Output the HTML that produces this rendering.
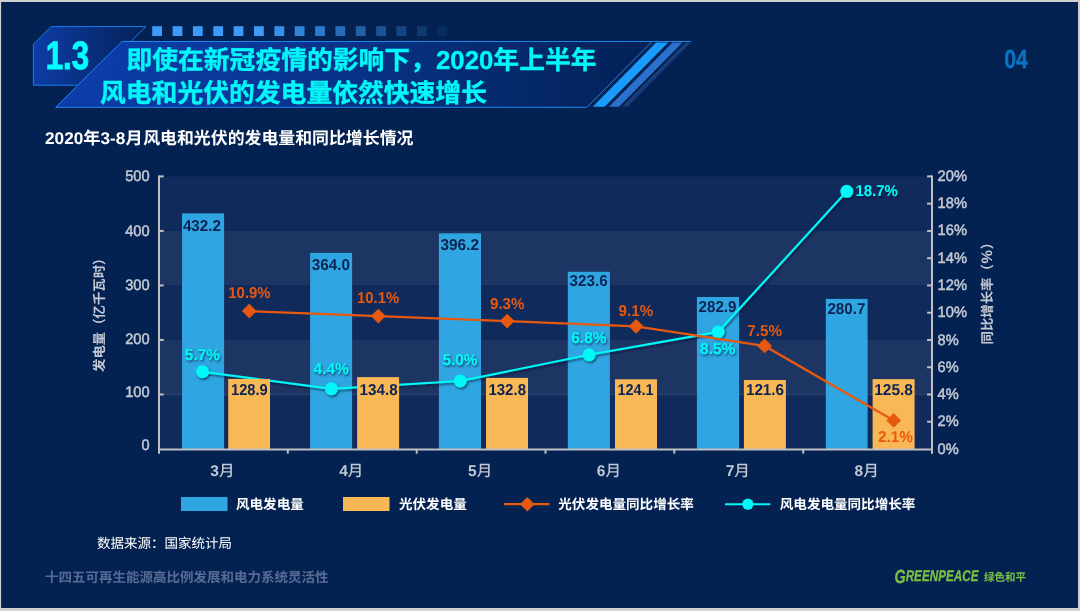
<!DOCTYPE html>
<html lang="zh-CN"><head><meta charset="utf-8"><title>1.3 风电和光伏的发电量</title>
<style>
html,body{margin:0;padding:0;background:#cfcfcf;}
body{width:1080px;height:611px;overflow:hidden;position:relative;}
svg{position:absolute;left:0;top:0;display:block;text-rendering:geometricPrecision;}
text{font-family:"Liberation Sans", "Noto Sans CJK SC", sans-serif;}
.din{font-family:"Liberation Sans", "Noto Sans CJK SC", sans-serif;font-weight:bold;}
.cjk{font-family:"Liberation Sans", "Noto Sans CJK SC", sans-serif;}
.dinm{font-family:"Liberation Sans", "Noto Sans CJK SC", sans-serif;font-weight:normal;}
</style></head><body>
<svg width="1080" height="611" viewBox="0 0 1080 611">
<defs>
<linearGradient id="gbox" x1="0" y1="0" x2="1" y2="0"><stop offset="0" stop-color="#0d3ca6"/><stop offset="0.75" stop-color="#06286a"/><stop offset="1" stop-color="#042058"/></linearGradient>
<linearGradient id="gban" x1="0" y1="0" x2="1" y2="0"><stop offset="0" stop-color="#0d3fb2"/><stop offset="0.3" stop-color="#0a399f"/><stop offset="0.6" stop-color="#073080"/><stop offset="0.85" stop-color="#042664"/><stop offset="1" stop-color="#032156"/></linearGradient>
<filter id="sh" x="-20%" y="-20%" width="140%" height="160%"><feDropShadow dx="1" dy="1.5" stdDeviation="1.2" flood-color="#000a30" flood-opacity="0.7"/></filter>
</defs>
<rect x="0" y="0" width="1080" height="611" fill="#d0d0d0"/>
<rect x="1.1" y="2" width="1076.9" height="606" fill="#032251"/>
<polygon points="51.1,26.6 145.8,26.6 87.2,85.2 33.4,85.2 33.4,44.3" fill="url(#gbox)" stroke="#1b7de6" stroke-width="1"/>
<rect x="152.2" y="26.2" width="9.8" height="9.8" fill="#3d9af8" opacity="1.00"/>
<rect x="172.6" y="26.2" width="9.8" height="9.8" fill="#3d9af8" opacity="1.00"/>
<rect x="192.9" y="26.2" width="9.8" height="9.8" fill="#3d9af8" opacity="1.00"/>
<rect x="213.3" y="26.2" width="9.8" height="9.8" fill="#3d9af8" opacity="1.00"/>
<rect x="233.6" y="26.2" width="9.8" height="9.8" fill="#3d9af8" opacity="1.00"/>
<rect x="254.0" y="26.2" width="9.8" height="9.8" fill="#3d9af8" opacity="1.00"/>
<rect x="274.4" y="26.2" width="9.8" height="9.8" fill="#3d9af8" opacity="0.92"/>
<rect x="294.7" y="26.2" width="9.8" height="9.8" fill="#3d9af8" opacity="0.82"/>
<rect x="315.1" y="26.2" width="9.8" height="9.8" fill="#3d9af8" opacity="0.72"/>
<rect x="335.4" y="26.2" width="9.8" height="9.8" fill="#3d9af8" opacity="0.62"/>
<rect x="355.8" y="26.2" width="9.8" height="9.8" fill="#3d9af8" opacity="0.52"/>
<rect x="376.2" y="26.2" width="9.8" height="9.8" fill="#3d9af8" opacity="0.42"/>
<rect x="396.5" y="26.2" width="9.8" height="9.8" fill="#3d9af8" opacity="0.30"/>
<rect x="416.9" y="26.2" width="9.8" height="9.8" fill="#3d9af8" opacity="0.20"/>
<rect x="437.2" y="26.2" width="9.8" height="9.8" fill="#3d9af8" opacity="0.10"/>
<polygon points="121.9,41.5 652,41.5 587,107.3 55.7,107.3" fill="url(#gban)" fill-opacity="0.93" stroke="#1c86ee" stroke-width="1"/>
<line x1="640" y1="41.5" x2="691" y2="41.5" stroke="#1c86ee" stroke-width="1"/>
<polygon points="656.2,42.5 668.2,42.5 604.7,106.8 592.7,106.8" fill="#1a9cff"/>
<polygon points="672.5,42.5 682.5,42.5 619,106.8 609,106.8" fill="#2b72cf"/>
<polygon points="685.5,42.5 690.8,42.5 627.3,106.8 622,106.8" fill="#173d7d"/>
<text class="din" x="45.7" y="69.0" font-size="39.6" fill="#00ffff" stroke="#00ffff" stroke-width="0.9" textLength="43.5" lengthAdjust="spacingAndGlyphs">1.3</text>
<text class="cjk" x="126.4" y="68.8" font-size="25.8" font-weight="bold" fill="#00f8f8" stroke="#00f8f8" stroke-width="0.35">即使在新冠疫情的影响下，2020年上半年</text>
<text class="cjk" x="100" y="101.8" font-size="25.8" font-weight="bold" fill="#00f8f8" stroke="#00f8f8" stroke-width="0.35">风电和光伏的发电量依然快速增长</text>
<text class="din" x="1004.3" y="68.1" font-size="26" fill="#0a72c1" stroke="#0a72c1" stroke-width="0.5" textLength="23.6" lengthAdjust="spacingAndGlyphs">04</text>
<text class="cjk" x="45" y="144.2" font-size="16.9" font-weight="bold" fill="#ffffff" textLength="97.6" lengthAdjust="spacingAndGlyphs">2020年3-8月</text>
<text class="cjk" x="143.2" y="144.2" font-size="16.9" font-weight="bold" fill="#ffffff">风电和光伏的发电量和同比增长情况</text>
<rect x="159.0" y="176.40" width="773.0" height="54.52" fill="#102a5b"/>
<rect x="159.0" y="230.92" width="773.0" height="54.52" fill="#1d3563"/>
<rect x="159.0" y="285.44" width="773.0" height="54.52" fill="#102a5b"/>
<rect x="159.0" y="339.96" width="773.0" height="54.52" fill="#1d3563"/>
<rect x="159.0" y="394.48" width="773.0" height="54.52" fill="#102a5b"/>
<line x1="159.0" y1="394.48" x2="932.0" y2="394.48" stroke="#ffffff" stroke-opacity="0.10" stroke-width="1.6"/>
<rect x="182.0" y="213.4" width="42.1" height="235.6" fill="#2fa6e1"/>
<rect x="310.1" y="252.9" width="42.0" height="196.1" fill="#2fa6e1"/>
<rect x="438.9" y="233.3" width="42.1" height="215.7" fill="#2fa6e1"/>
<rect x="567.8" y="271.8" width="42.1" height="177.2" fill="#2fa6e1"/>
<rect x="696.9" y="297.0" width="42.2" height="152.0" fill="#2fa6e1"/>
<rect x="825.8" y="298.9" width="41.8" height="150.1" fill="#2fa6e1"/>
<g filter="url(#sh)">
<polyline points="202.6,371.7 331.5,388.8 460.3,381.0 589.2,354.8 718.2,331.9 846.8,191.3" fill="none" stroke="#00f8f8" stroke-width="2.15"/>
<circle cx="202.6" cy="371.7" r="6.5" fill="#00f8f8"/>
<circle cx="331.5" cy="388.8" r="6.5" fill="#00f8f8"/>
<circle cx="460.3" cy="381.0" r="6.5" fill="#00f8f8"/>
<circle cx="589.2" cy="354.8" r="6.5" fill="#00f8f8"/>
<circle cx="718.2" cy="331.9" r="6.5" fill="#00f8f8"/>
<circle cx="846.8" cy="191.3" r="6.5" fill="#00f8f8"/>
</g>
<rect x="228.2" y="378.9" width="41.8" height="70.1" fill="#f8b855"/>
<rect x="357.1" y="377.1" width="42.0" height="71.9" fill="#f8b855"/>
<rect x="486.0" y="377.9" width="42.0" height="71.1" fill="#f8b855"/>
<rect x="615.0" y="379.3" width="42.0" height="69.7" fill="#f8b855"/>
<rect x="743.9" y="380.0" width="42.0" height="69.0" fill="#f8b855"/>
<rect x="872.6" y="379.1" width="42.0" height="69.9" fill="#f8b855"/>
<g stroke="#c0c0c3" stroke-width="2" fill="none">
<line x1="159.0" y1="175.4" x2="159.0" y2="453.7"/>
<line x1="932.0" y1="175.4" x2="932.0" y2="453.7"/>
<line x1="159.0" y1="449.4" x2="932.0" y2="449.4"/>
<line x1="159.0" y1="176.40" x2="163.7" y2="176.40"/>
<line x1="159.0" y1="230.92" x2="163.7" y2="230.92"/>
<line x1="159.0" y1="285.44" x2="163.7" y2="285.44"/>
<line x1="159.0" y1="339.96" x2="163.7" y2="339.96"/>
<line x1="159.0" y1="394.48" x2="163.7" y2="394.48"/>
<line x1="927.1" y1="176.40" x2="932.0" y2="176.40"/>
<line x1="927.1" y1="203.66" x2="932.0" y2="203.66"/>
<line x1="927.1" y1="230.92" x2="932.0" y2="230.92"/>
<line x1="927.1" y1="258.18" x2="932.0" y2="258.18"/>
<line x1="927.1" y1="285.44" x2="932.0" y2="285.44"/>
<line x1="927.1" y1="312.70" x2="932.0" y2="312.70"/>
<line x1="927.1" y1="339.96" x2="932.0" y2="339.96"/>
<line x1="927.1" y1="367.22" x2="932.0" y2="367.22"/>
<line x1="927.1" y1="394.48" x2="932.0" y2="394.48"/>
<line x1="927.1" y1="421.74" x2="932.0" y2="421.74"/>
<line x1="287.8" y1="449.0" x2="287.8" y2="453.7"/>
<line x1="416.7" y1="449.0" x2="416.7" y2="453.7"/>
<line x1="545.5" y1="449.0" x2="545.5" y2="453.7"/>
<line x1="674.3" y1="449.0" x2="674.3" y2="453.7"/>
<line x1="803.2" y1="449.0" x2="803.2" y2="453.7"/>
</g>
<text class="din" x="182.9" y="230.9" font-size="15.8" fill="#0b2252" textLength="38.1" lengthAdjust="spacingAndGlyphs">432.2</text>
<text class="din" x="311.8" y="269.5" font-size="15.8" fill="#0b2252" textLength="38.1" lengthAdjust="spacingAndGlyphs">364.0</text>
<text class="din" x="440.5" y="249.6" font-size="15.8" fill="#0b2252" textLength="38.5" lengthAdjust="spacingAndGlyphs">396.2</text>
<text class="din" x="569.5" y="286.4" font-size="15.8" fill="#0b2252" textLength="38.1" lengthAdjust="spacingAndGlyphs">323.6</text>
<text class="din" x="698.6" y="312.4" font-size="15.8" fill="#0b2252" textLength="37.8" lengthAdjust="spacingAndGlyphs">282.9</text>
<text class="din" x="827.4" y="314.4" font-size="15.8" fill="#0b2252" textLength="38.1" lengthAdjust="spacingAndGlyphs">280.7</text>
<text class="din" x="231.0" y="395.2" font-size="15.8" fill="#0b2252" textLength="36.7" lengthAdjust="spacingAndGlyphs">128.9</text>
<text class="din" x="359.5" y="394.6" font-size="15.8" fill="#0b2252" textLength="38.1" lengthAdjust="spacingAndGlyphs">134.8</text>
<text class="din" x="488.4" y="394.6" font-size="15.8" fill="#0b2252" textLength="37.6" lengthAdjust="spacingAndGlyphs">132.8</text>
<text class="din" x="617.4" y="394.7" font-size="15.8" fill="#0b2252" textLength="36.2" lengthAdjust="spacingAndGlyphs">124.1</text>
<text class="din" x="745.9" y="395.2" font-size="15.8" fill="#0b2252" textLength="38.2" lengthAdjust="spacingAndGlyphs">121.6</text>
<text class="din" x="874.2" y="395.0" font-size="15.8" fill="#0b2252" textLength="38.8" lengthAdjust="spacingAndGlyphs">125.8</text>
<polyline points="249.3,311.1 378.3,316.1 507.2,321.1 636.1,326.3 764.6,345.9 893.7,420.4" fill="none" stroke="#e8590f" stroke-width="2.3"/>
<polygon points="241.9,311.1 249.3,303.7 256.7,311.1 249.3,318.5" fill="#e8590f"/>
<polygon points="370.9,316.1 378.3,308.7 385.7,316.1 378.3,323.5" fill="#e8590f"/>
<polygon points="499.8,321.1 507.2,313.7 514.6,321.1 507.2,328.5" fill="#e8590f"/>
<polygon points="628.7,326.3 636.1,318.9 643.5,326.3 636.1,333.7" fill="#e8590f"/>
<polygon points="757.2,345.9 764.6,338.5 772.0,345.9 764.6,353.3" fill="#e8590f"/>
<polygon points="886.3,420.4 893.7,413.0 901.1,420.4 893.7,427.8" fill="#e8590f"/>
<text class="din" x="228.3" y="297.8" font-size="15.8" fill="#e8590f" textLength="42.3" lengthAdjust="spacingAndGlyphs">10.9%</text>
<text class="din" x="357.0" y="303.1" font-size="15.8" fill="#e8590f" textLength="42.3" lengthAdjust="spacingAndGlyphs">10.1%</text>
<text class="din" x="490.0" y="309.4" font-size="15.8" fill="#e8590f" textLength="34.5" lengthAdjust="spacingAndGlyphs">9.3%</text>
<text class="din" x="618.6" y="315.8" font-size="15.8" fill="#e8590f" textLength="34.5" lengthAdjust="spacingAndGlyphs">9.1%</text>
<text class="din" x="747.3" y="336.4" font-size="15.8" fill="#e8590f" textLength="34.6" lengthAdjust="spacingAndGlyphs">7.5%</text>
<text class="din" x="877.9" y="441.7" font-size="15.8" fill="#e8590f" textLength="35.1" lengthAdjust="spacingAndGlyphs">2.1%</text>
<g filter="url(#sh)">
<text class="din" x="184.8" y="360.0" font-size="15.8" fill="#00f8f8" textLength="35.2" lengthAdjust="spacingAndGlyphs">5.7%</text>
<text class="din" x="313.5" y="374.4" font-size="15.8" fill="#00f8f8" textLength="35.4" lengthAdjust="spacingAndGlyphs">4.4%</text>
<text class="din" x="442.4" y="365.0" font-size="15.8" fill="#00f8f8" textLength="35.2" lengthAdjust="spacingAndGlyphs">5.0%</text>
<text class="din" x="571.3" y="343.4" font-size="15.8" fill="#00f8f8" textLength="35.1" lengthAdjust="spacingAndGlyphs">6.8%</text>
<text class="din" x="700.1" y="354.1" font-size="15.8" fill="#00f8f8" textLength="35.3" lengthAdjust="spacingAndGlyphs">8.5%</text>
<text class="din" x="855.4" y="195.9" font-size="15.8" fill="#00f8f8" textLength="42.3" lengthAdjust="spacingAndGlyphs">18.7%</text>
</g>
<text class="dinm" stroke="#c3c8d3" stroke-width="0.5" x="125.2" y="181.0" font-size="15.2" fill="#c3c8d3" textLength="24.4" lengthAdjust="spacingAndGlyphs">500</text>
<text class="dinm" stroke="#c3c8d3" stroke-width="0.5" x="125.2" y="235.7" font-size="15.2" fill="#c3c8d3" textLength="24.4" lengthAdjust="spacingAndGlyphs">400</text>
<text class="dinm" stroke="#c3c8d3" stroke-width="0.5" x="125.2" y="289.6" font-size="15.2" fill="#c3c8d3" textLength="24.4" lengthAdjust="spacingAndGlyphs">300</text>
<text class="dinm" stroke="#c3c8d3" stroke-width="0.5" x="125.2" y="343.9" font-size="15.2" fill="#c3c8d3" textLength="24.4" lengthAdjust="spacingAndGlyphs">200</text>
<text class="dinm" stroke="#c3c8d3" stroke-width="0.5" x="125.2" y="397.3" font-size="15.2" fill="#c3c8d3" textLength="24.4" lengthAdjust="spacingAndGlyphs">100</text>
<text class="dinm" stroke="#c3c8d3" stroke-width="0.5" x="141.5" y="450.4" font-size="15.2" fill="#c3c8d3" textLength="8.1" lengthAdjust="spacingAndGlyphs">0</text>
<text class="dinm" stroke="#c3c8d3" stroke-width="0.5" x="937.6" y="180.9" font-size="15.2" fill="#c3c8d3" textLength="29.4" lengthAdjust="spacingAndGlyphs">20%</text>
<text class="dinm" stroke="#c3c8d3" stroke-width="0.5" x="937.6" y="208.2" font-size="15.2" fill="#c3c8d3" textLength="29.4" lengthAdjust="spacingAndGlyphs">18%</text>
<text class="dinm" stroke="#c3c8d3" stroke-width="0.5" x="937.6" y="235.4" font-size="15.2" fill="#c3c8d3" textLength="29.4" lengthAdjust="spacingAndGlyphs">16%</text>
<text class="dinm" stroke="#c3c8d3" stroke-width="0.5" x="937.6" y="262.7" font-size="15.2" fill="#c3c8d3" textLength="29.4" lengthAdjust="spacingAndGlyphs">14%</text>
<text class="dinm" stroke="#c3c8d3" stroke-width="0.5" x="937.6" y="289.9" font-size="15.2" fill="#c3c8d3" textLength="29.4" lengthAdjust="spacingAndGlyphs">12%</text>
<text class="dinm" stroke="#c3c8d3" stroke-width="0.5" x="937.6" y="317.2" font-size="15.2" fill="#c3c8d3" textLength="29.4" lengthAdjust="spacingAndGlyphs">10%</text>
<text class="dinm" stroke="#c3c8d3" stroke-width="0.5" x="937.6" y="344.5" font-size="15.2" fill="#c3c8d3" textLength="21.1" lengthAdjust="spacingAndGlyphs">8%</text>
<text class="dinm" stroke="#c3c8d3" stroke-width="0.5" x="937.6" y="371.7" font-size="15.2" fill="#c3c8d3" textLength="21.1" lengthAdjust="spacingAndGlyphs">6%</text>
<text class="dinm" stroke="#c3c8d3" stroke-width="0.5" x="937.6" y="399.0" font-size="15.2" fill="#c3c8d3" textLength="21.1" lengthAdjust="spacingAndGlyphs">4%</text>
<text class="dinm" stroke="#c3c8d3" stroke-width="0.5" x="937.6" y="426.2" font-size="15.2" fill="#c3c8d3" textLength="21.1" lengthAdjust="spacingAndGlyphs">2%</text>
<text class="dinm" stroke="#c3c8d3" stroke-width="0.5" x="937.6" y="453.5" font-size="15.2" fill="#c3c8d3" textLength="21.1" lengthAdjust="spacingAndGlyphs">0%</text>
<text class="cjk" x="222.4" y="476.4" font-size="15.5" font-weight="500" fill="#c3c8d3" text-anchor="middle"><tspan font-weight="bold">3</tspan>月</text>
<text class="cjk" x="351.2" y="476.4" font-size="15.5" font-weight="500" fill="#c3c8d3" text-anchor="middle"><tspan font-weight="bold">4</tspan>月</text>
<text class="cjk" x="480.1" y="476.4" font-size="15.5" font-weight="500" fill="#c3c8d3" text-anchor="middle"><tspan font-weight="bold">5</tspan>月</text>
<text class="cjk" x="608.9" y="476.4" font-size="15.5" font-weight="500" fill="#c3c8d3" text-anchor="middle"><tspan font-weight="bold">6</tspan>月</text>
<text class="cjk" x="737.8" y="476.4" font-size="15.5" font-weight="500" fill="#c3c8d3" text-anchor="middle"><tspan font-weight="bold">7</tspan>月</text>
<text class="cjk" x="866.6" y="476.4" font-size="15.5" font-weight="500" fill="#c3c8d3" text-anchor="middle"><tspan font-weight="bold">8</tspan>月</text>
<text class="cjk" transform="translate(104.3,372) rotate(-90)" font-size="13.4" font-weight="bold" fill="#c3c8d3">发电量（亿千瓦时）</text>
<text class="cjk" transform="translate(991.8,344.5) rotate(-90)" font-size="13.4" font-weight="bold" fill="#c3c8d3">同比增长率（<tspan font-size="15.2" dx="0.6">%</tspan><tspan dx="0.8">）</tspan></text>
<rect x="181" y="497" width="46.5" height="14" fill="#2fa6e1"/>
<text class="cjk" x="236" y="509" font-size="13.55" font-weight="bold" fill="#ffffff">风电发电量</text>
<rect x="343" y="497" width="46.5" height="14" fill="#f8b855"/>
<text class="cjk" x="399" y="509" font-size="13.55" font-weight="bold" fill="#ffffff">光伏发电量</text>
<line x1="504" y1="504.2" x2="549.5" y2="504.2" stroke="#e8590f" stroke-width="2.2"/>
<polygon points="520,504.2 527.3,496.9 534.6,504.2 527.3,511.5" fill="#e8590f"/>
<text class="cjk" x="558.3" y="509" font-size="13.55" font-weight="bold" fill="#ffffff">光伏发电量同比增长率</text>
<line x1="725" y1="504.2" x2="770.3" y2="504.2" stroke="#00f8f8" stroke-width="2.1"/>
<circle cx="747.9" cy="504.2" r="5.6" fill="#00f8f8"/>
<text class="cjk" x="779.8" y="509" font-size="13.55" font-weight="bold" fill="#ffffff">风电发电量同比增长率</text>
<text class="cjk" x="97" y="548" font-size="13.5" fill="#ffffff">数据来源：国家统计局</text>
<text class="cjk" x="45" y="582" font-size="13.5" font-weight="bold" fill="#586b95">十四五可再生能源高比例发展和电力系统灵活性</text>
<text x="894.5" y="581" font-size="15.5" font-weight="bold" font-style="italic" fill="#7ac143" stroke="#7ac143" stroke-width="0.3" textLength="84" lengthAdjust="spacingAndGlyphs"><tspan font-size="19" dy="1.5">G</tspan><tspan dy="-1.5">REENPEACE</tspan></text>
<text class="cjk" x="984" y="580.6" font-size="11" font-weight="bold" fill="#7ac143" textLength="42" lengthAdjust="spacingAndGlyphs">绿色和平</text>
</svg>
</body></html>
